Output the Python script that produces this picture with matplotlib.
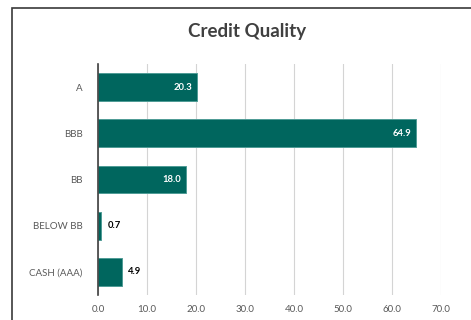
import matplotlib.pyplot as plt
import matplotlib.patches as patches

# credit rating buckets and their weights (%)
ratings = ["A", "BBB", "BB", "BELOW BB", "CASH (AAA)"]
weights = [20.3, 64.9, 18.0, 0.7, 4.9]
xticks = [0, 10, 20, 30, 40, 50, 60, 70]

bar_color = "#00665e"
text_gray = "#595959"

plt.rcParams['font.family'] = ['Lato', 'DejaVu Sans']

fig = plt.figure(figsize=(4.71, 3.2), dpi=100)

# frame around the chart area (runs off the right/bottom edge)
frame = patches.Rectangle((12 / 471, -0.1), 1.0, 1 - 8 / 320 + 0.1,
                          transform=fig.transFigure, fill=False,
                          edgecolor="#3a3a3a", linewidth=1.2)
fig.patches.append(frame)

ax = fig.add_axes([98 / 471, 1 - 295 / 320, 343 / 471, 231 / 320])

ypos = list(range(len(ratings)))
bars = ax.barh(ypos, weights, height=0.6, color=bar_color,
               edgecolor="#4f9c96", linewidth=0.7, zorder=3)

# value labels: inside the bar if there's room, else just past the end
for b, v in zip(bars, weights):
    yc = b.get_y() + b.get_height() / 2
    if v > 10:
        ax.text(v - 1.0, yc, f"{v:.1f}", ha="right", va="center",
                color="white", fontsize=6.8, fontweight="bold", zorder=4)
    else:
        ax.text(v + 1.2, yc, f"{v:.1f}", ha="left", va="center",
                color="black", fontsize=6.8, fontweight="bold", zorder=4)

ax.set_ylim(len(ratings) - 0.5, -0.5)
ax.set_yticks(ypos)
ax.set_yticklabels(ratings)
ax.set_xlim(0, 70)
ax.set_xticks(xticks)
ax.set_xticklabels([f"{t:.1f}" for t in xticks])

ax.tick_params(axis="both", length=0, labelsize=7, colors=text_gray)
ax.tick_params(axis="y", pad=11)
ax.tick_params(axis="x", pad=7)

ax.grid(axis="x", color="#d4d4d4", linewidth=0.8, zorder=0)
for s in ["top", "right", "bottom"]:
    ax.spines[s].set_visible(False)
ax.spines["left"].set_color("#404040")
ax.spines["left"].set_linewidth(1.2)
ax.spines["left"].set_zorder(5)

fig.text(247 / 471, 1 - 31 / 320, "Credit Quality", ha="center", va="center",
         fontsize=13.5, fontweight="bold", color="#404040")

fig.savefig("out.png", dpi=100)
